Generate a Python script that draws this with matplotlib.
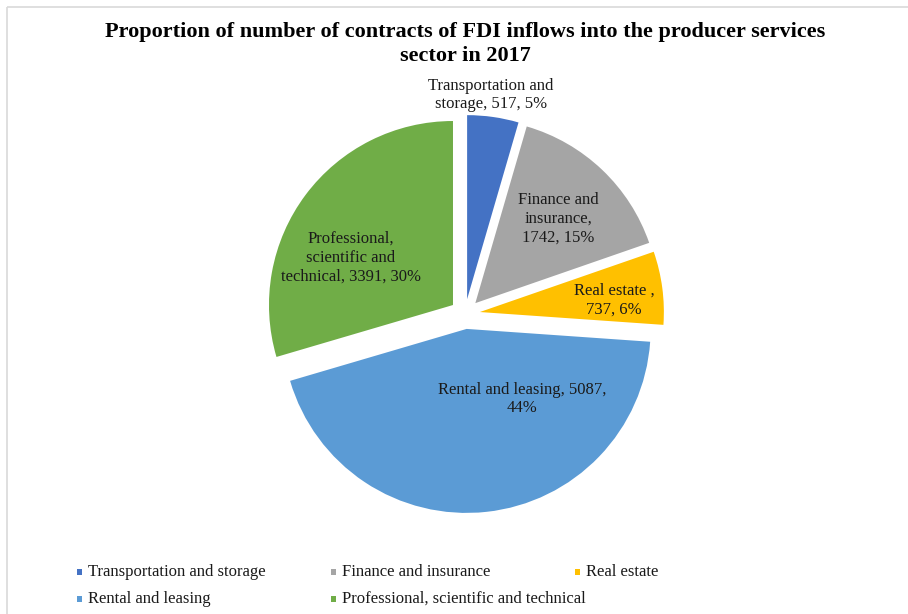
import matplotlib
matplotlib.use("Agg")
import matplotlib.pyplot as plt
from matplotlib.patches import Rectangle

# ---- data -------------------------------------------------------------
categories = [
    "Transportation and storage",
    "Finance and insurance",
    "Real estate",
    "Rental and leasing",
    "Professional, scientific and technical",
]
contracts = [517, 1742, 737, 5087, 3391]
label_templates = [
    "Transportation and\nstorage, {v}, {p}%",
    "Finance and\ninsurance,\n{v}, {p}%",
    "Real estate ,\n{v}, {p}%",
    "Rental and leasing, {v},\n{p}%",
    "Professional,\nscientific and\ntechnical, {v}, {p}%",
]
colors = ["#4472C4", "#A5A5A5", "#FFC000", "#5B9BD5", "#70AD47"]
title = ("Proportion of number of contracts of FDI inflows into the producer services\n"
         "sector in 2017")

# ---- layout (pixel units, origin top-left) -----------------------------
W, H = 908, 614
pie_cx, pie_cy, pie_r = 465, 314, 184
explode_px = 15
label_xy = [(491, 95), (558, 219), (614, 300), (522, 399), (351, 258)]
legend_cols = [79.5, 333.5, 577.5]
legend_rows = [572, 599]

plt.rcParams["font.family"] = ["Liberation Serif", "DejaVu Serif"]

fig = plt.figure(figsize=(W / 100, H / 100), dpi=100)
ax = fig.add_axes([0, 0, 1, 1])


def Y(y):
    return H - y


# explode offsets are in data units (pixels here)
ax.pie(
    contracts,
    explode=[explode_px] * len(contracts),
    colors=colors,
    startangle=90,
    counterclock=False,
    center=(pie_cx, Y(pie_cy)),
    radius=pie_r,
    wedgeprops=dict(linewidth=0),
)
ax.set_xlim(0, W)
ax.set_ylim(0, H)
ax.set_aspect("equal")
ax.axis("off")

total = sum(contracts)
for tpl, v, (lx, ly) in zip(label_templates, contracts, label_xy):
    pct = round(100 * v / total)
    ax.text(lx, Y(ly), tpl.format(v=v, p=pct), ha="center", va="center",
            fontsize=12, color="#1a1a1a", linespacing=1.25)

# chart area frame
ax.plot([7, W], [Y(7), Y(7)], color="#D9D9D9", lw=1.2, solid_capstyle="butt")
ax.plot([7, 7], [Y(7), 0], color="#D9D9D9", lw=1.2, solid_capstyle="butt")

ax.text(465, Y(44), title, ha="center", va="center", fontsize=16,
        fontweight="bold", linespacing=1.25, color="black")

# legend
for i, (name, c) in enumerate(zip(categories, colors)):
    x0 = legend_cols[i % 3]
    y0 = legend_rows[i // 3]
    ax.add_patch(Rectangle((x0 - 2.5, Y(y0) - 3), 5, 6, facecolor=c, edgecolor="none"))
    ax.text(x0 + 9, Y(y0), name, ha="left", va="center", fontsize=12, color="#1a1a1a")

fig.savefig("out.png", dpi=100)
